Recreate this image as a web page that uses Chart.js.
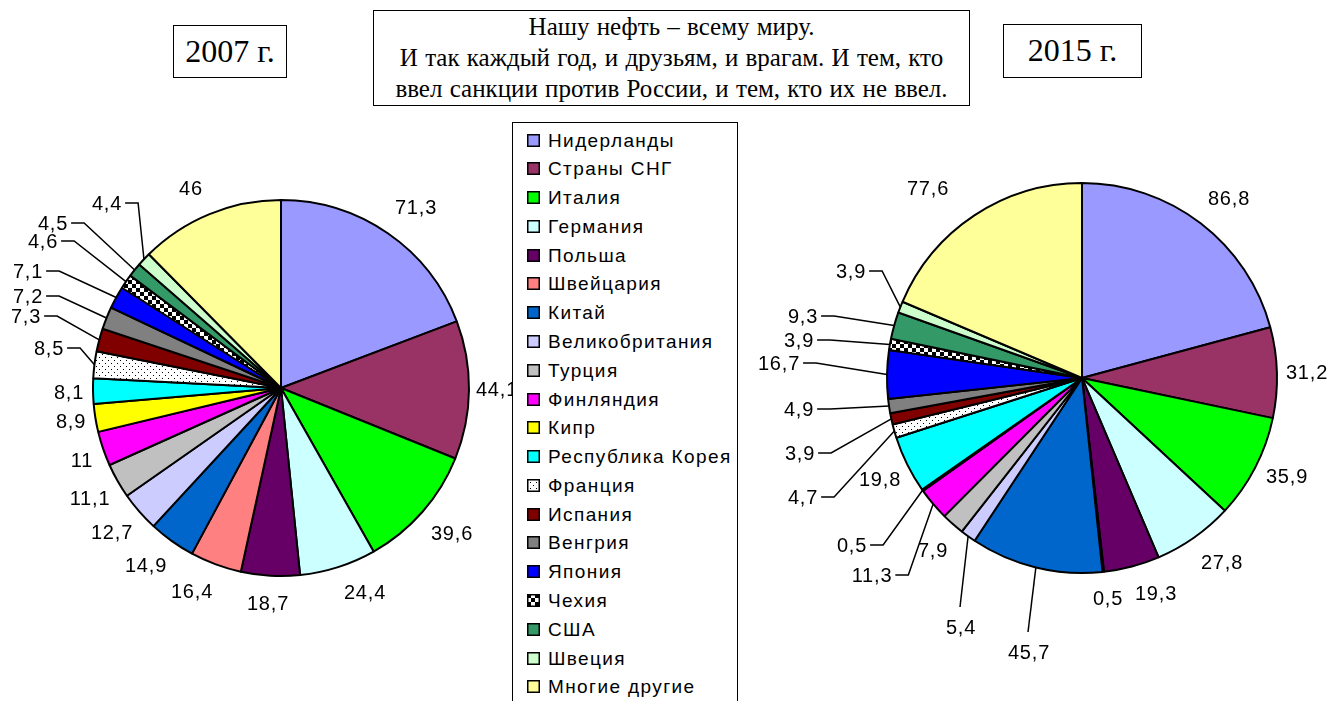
<!DOCTYPE html>
<html lang="ru">
<head>
<meta charset="utf-8">
<title>Экспорт нефти: 2007 и 2015</title>
<script src="https://cdn.jsdelivr.net/npm/chart.js@4.4.1/dist/chart.umd.min.js"></script>
<style>
  html, body { margin: 0; padding: 0; background: #fff; }
  body { width: 1332px; height: 701px; position: relative; overflow: hidden;
         font-family: "Liberation Sans", Arial, sans-serif; }
  .box { position: absolute; border: 1.5px solid #000; background: #fff; box-sizing: border-box; }
  #title { left: 373px; top: 10px; width: 597px; height: 96px;
           font-family: "Liberation Serif", "Times New Roman", serif; font-size: 25px;
           line-height: 31px; text-align: center; word-spacing: 1px; }
  .year { font-family: "Liberation Serif", "Times New Roman", serif; font-size: 32px;
          text-align: center; }
  #y2007 { left: 173px; top: 25px; width: 114px; height: 53px; line-height: 50px; }
  #y2015 { left: 1003px; top: 24px; width: 139px; height: 54px; line-height: 51px; }
  #legend { left: 512px; top: 122px; width: 226px; height: 600px; z-index: 2; }
  .row { position: absolute; left: 14px; height: 22px; line-height: 22px; font-size: 19px;
         letter-spacing: 1.4px; white-space: nowrap; }
  .row canvas { position: absolute; left: 0; top: 4px; }
  .row span { position: absolute; left: 21px; top: 0; }
  canvas.pie { position: absolute; top: 0; }
</style>
</head>
<body>
<div id="title" class="box"></div>
<div id="y2007" class="box year"></div>
<div id="y2015" class="box year"></div>
<canvas id="pie2007" class="pie" width="512" height="701" style="left:0"></canvas>
<canvas id="pie2015" class="pie" width="592" height="701" style="left:740px"></canvas>
<div id="legend" class="box"></div>
<script>
// ---- data ----
const categories = ['Нидерланды', 'Страны СНГ', 'Италия', 'Германия', 'Польша', 'Швейцария',
  'Китай', 'Великобритания', 'Турция', 'Финляндия', 'Кипр', 'Республика Корея', 'Франция',
  'Испания', 'Венгрия', 'Япония', 'Чехия', 'США', 'Швеция', 'Многие другие'];
const values2007 = [71.3, 44.1, 39.6, 24.4, 18.7, 16.4, 14.9, 12.7, 11.1, 11, 8.9, 8.1, 8.5,
  7.3, 7.2, 7.1, 4.6, 4.5, 4.4, 46];
const values2015 = [86.8, 31.2, 35.9, 27.8, 19.3, 0.5, 45.7, 5.4, 7.9, 11.3, 0.5, 19.8, 4.7,
  3.9, 4.9, 16.7, 3.9, 9.3, 3.9, 77.6];
const yearLabels = ['2007 г.', '2015 г.'];
const titleLines = ['Нашу нефть – всему миру.',
  'И так каждый год, и друзьям, и врагам. И тем, кто',
  'ввел санкции против России, и тем, кто их не ввел.'];

// ---- styles ----
function makePattern(size, paint) {
  const c = document.createElement('canvas');
  c.width = size; c.height = size;
  const g = c.getContext('2d');
  g.fillStyle = '#fff'; g.fillRect(0, 0, size, size);
  g.fillStyle = '#000';
  paint(g);
  return g.createPattern(c, 'repeat');
}
const dots = makePattern(6, g => { g.fillRect(0, 0, 1, 1); g.fillRect(3, 3, 1, 1); });
const checks = makePattern(8, g => { g.fillRect(0, 0, 4, 4); g.fillRect(4, 4, 4, 4); });

const fills = ['#9999FF', '#993366', '#00FF00', '#CCFFFF', '#660066', '#FF8080', '#0066CC',
  '#CCCCFF', '#C0C0C0', '#FF00FF', '#FFFF00', '#00FFFF', dots, '#800000', '#808080',
  '#0000FF', checks, '#339966', '#CCFFCC', '#FFFF99'];

// label anchors relative to each pie centre; "lead" marks labels joined by a leader line
const labelPos2007 = [
  {x: 135, y: -181}, {x: 216, y: 1}, {x: 171, y: 145}, {x: 84, y: 204}, {x: -13, y: 215},
  {x: -89, y: 203}, {x: -135, y: 177}, {x: -169, y: 144}, {x: -191, y: 110}, {x: -199, y: 72},
  {x: -210, y: 33}, {x: -212, y: 4},
  {x: -232, y: -40, lead: 'side'}, {x: -255, y: -72, lead: 'side'}, {x: -253, y: -92, lead: 'side'},
  {x: -253, y: -117, lead: 'side'}, {x: -238, y: -147, lead: 'side'}, {x: -228, y: -165, lead: 'side'},
  {x: -174, y: -185, lead: 'side'}, {x: -90, y: -200}
];
const labelPos2015 = [
  {x: 147, y: -180}, {x: 225, y: -6}, {x: 205, y: 98}, {x: 140, y: 184}, {x: 74, y: 215},
  {x: 26, y: 220}, {x: -53, y: 274, lead: 'top'}, {x: -121, y: 249, lead: 'top'},
  {x: -149, y: 172}, {x: -210, y: 197, lead: 'side'}, {x: -230, y: 167, lead: 'side'},
  {x: -202, y: 101}, {x: -279, y: 119, lead: 'side'}, {x: -282, y: 75, lead: 'side'},
  {x: -283, y: 31, lead: 'side'}, {x: -303, y: -15, lead: 'side'}, {x: -283, y: -38, lead: 'side'},
  {x: -279, y: -62, lead: 'side'}, {x: -231, y: -107, lead: 'side'}, {x: -154, y: -190}
];

const fmt = v => String(v).replace('.', ',');

// value labels with leader lines, placed around each pie
const sliceLabels = {
  id: 'sliceLabels',
  afterDatasetsDraw(chart, args, opts) {
    const ctx = chart.ctx;
    const meta = chart.getDatasetMeta(0);
    const data = chart.data.datasets[0].data;
    ctx.save();
    ctx.font = '20px "Liberation Sans", Arial, sans-serif';
    if ('letterSpacing' in ctx) ctx.letterSpacing = '0.8px';
    ctx.textAlign = 'center';
    ctx.textBaseline = 'middle';
    ctx.fillStyle = '#000';
    ctx.strokeStyle = '#000';
    ctx.lineWidth = 1.5;
    meta.data.forEach((arc, i) => {
      const p = arc.getProps(['x', 'y', 'startAngle', 'endAngle', 'outerRadius'], true);
      const mid = (p.startAngle + p.endAngle) / 2;
      const ex = p.x + Math.cos(mid) * p.outerRadius;
      const ey = p.y + Math.sin(mid) * p.outerRadius;
      const pos = opts.positions[i];
      const lx = p.x + pos.x, ly = p.y + pos.y;
      const text = fmt(data[i]);
      const w = ctx.measureText(text).width;
      if (pos.lead === 'side') {
        const sx = lx + w / 2 + 3;
        ctx.beginPath();
        ctx.moveTo(sx, ly);
        ctx.lineTo(sx + 13, ly);
        ctx.lineTo(ex, ey);
        ctx.stroke();
      } else if (pos.lead === 'top') {
        ctx.beginPath();
        ctx.moveTo(lx - 1, ly - 20);
        ctx.lineTo(ex, ey);
        ctx.stroke();
      }
      ctx.fillText(text, lx, ly + 1);
    });
    ctx.restore();
  }
};

function makePie(id, values, radius, padding, positions) {
  return new Chart(document.getElementById(id), {
    type: 'pie',
    data: {
      labels: categories,
      datasets: [{
        data: values,
        backgroundColor: fills,
        borderColor: '#000',
        borderWidth: 2
      }]
    },
    options: {
      responsive: false,
      animation: false,
      events: [],
      radius: radius,
      layout: {padding: padding},
      plugins: {
        legend: {display: false},
        tooltip: {enabled: false},
        sliceLabels: {positions: positions}
      }
    },
    plugins: [sliceLabels]
  });
}

makePie('pie2007', values2007, 188, {left: 50, right: 0, top: 75, bottom: 0}, labelPos2007);
makePie('pie2015', values2015, 195, {left: 92, right: 0, top: 55, bottom: 0}, labelPos2015);

// headings
document.getElementById('title').innerHTML = titleLines.map(t => '<div>' + t + '</div>').join('');
document.getElementById('y2007').textContent = yearLabels[0];
document.getElementById('y2015').textContent = yearLabels[1];

// shared legend
const legend = document.getElementById('legend');
categories.forEach((name, i) => {
  const row = document.createElement('div');
  row.className = 'row';
  row.style.top = (6.5 + i * 28.78) + 'px';
  const sw = document.createElement('canvas');
  sw.width = 13; sw.height = 13;
  const g = sw.getContext('2d');
  g.fillStyle = fills[i];
  g.fillRect(0, 0, 13, 13);
  g.strokeStyle = '#000';
  g.lineWidth = 1.5;
  g.strokeRect(0.75, 0.75, 11.5, 11.5);
  const label = document.createElement('span');
  label.textContent = name;
  row.appendChild(sw);
  row.appendChild(label);
  legend.appendChild(row);
});
</script>
</body>
</html>
